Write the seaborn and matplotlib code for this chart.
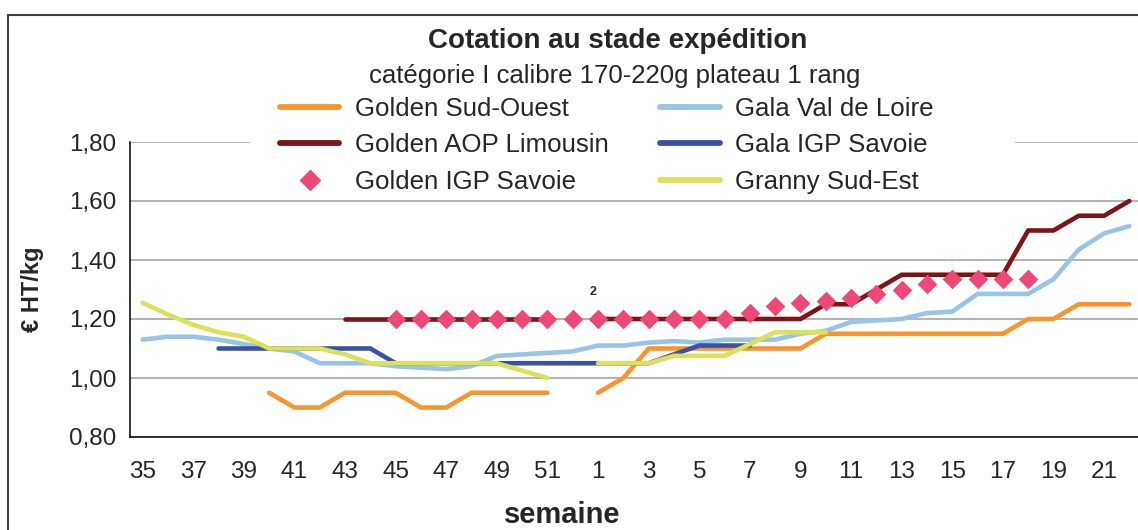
import numpy as np
import pandas as pd
import matplotlib
matplotlib.use("Agg")
import matplotlib.pyplot as plt
from matplotlib.lines import Line2D
from matplotlib.patches import Rectangle
import seaborn as sns

# semaines de campagne 35 -> 52 puis 1 -> 22
weeks = list(range(35, 53)) + list(range(1, 23))

golden_sud_ouest = ([None] * 5
                    + [0.95, 0.90, 0.90, 0.95, 0.95, 0.95, 0.90, 0.90, 0.95, 0.95, 0.95, 0.95]
                    + [None]
                    + [0.95, 1.00, 1.10, 1.10, 1.10, 1.10, 1.10, 1.10, 1.10]
                    + [1.15] * 8
                    + [1.20, 1.20, 1.25, 1.25, 1.25])
gala_val_de_loire = [1.13, 1.14, 1.14, 1.13, 1.115, 1.10, 1.09, 1.05, 1.05, 1.05, 1.04, 1.035,
                     1.03, 1.04, 1.075, 1.08, 1.085, 1.09,
                     1.11, 1.11, 1.12, 1.125, 1.12, 1.13, 1.13, 1.13, 1.15, 1.16, 1.19, 1.195,
                     1.20, 1.22, 1.225, 1.285, 1.285, 1.285, 1.335, 1.435, 1.49, 1.515]
golden_aop_limousin = ([None] * 8 + [1.20] * 9 + [None] + [1.20] * 9
                       + [1.25, 1.25, 1.30] + [1.35] * 5 + [1.50, 1.50, 1.55, 1.55, 1.60])
gala_igp_savoie = ([None] * 3 + [1.10] * 7 + [1.05] * 8
                   + [1.05, 1.05, 1.05, 1.08, 1.11, 1.11, 1.11] + [None] * 15)
golden_igp_savoie = ([None] * 10 + [1.20] * 14
                     + [1.22, 1.245, 1.255, 1.26, 1.27, 1.285, 1.30, 1.32, 1.335, 1.335, 1.335, 1.335]
                     + [None] * 4)
granny_sud_est = ([1.255, 1.215, 1.18, 1.155, 1.14, 1.10, 1.10, 1.10, 1.08, 1.05, 1.05, 1.05,
                   1.05, 1.05, 1.05, 1.025, 1.00, None]
                  + [1.05, 1.05, 1.05, 1.075, 1.075, 1.075, 1.115, 1.155, 1.155, 1.155]
                  + [None] * 12)

series_names = ["Golden Sud-Ouest", "Gala Val de Loire", "Golden AOP Limousin",
                "Gala IGP Savoie", "Golden IGP Savoie", "Granny Sud-Est"]
series_values = [golden_sud_ouest, gala_val_de_loire, golden_aop_limousin,
                 gala_igp_savoie, golden_igp_savoie, granny_sud_est]
colors = ["#F7962F", "#98C4E8", "#7E1416", "#3A52A3", "#EE4877", "#DBE15B"]

y_ticks = [0.8, 1.0, 1.2, 1.4, 1.6, 1.8]

# --- style ---
sns.set_style("white")
plt.rcParams["font.family"] = ["Liberation Sans", "DejaVu Sans"]

fig = plt.figure(figsize=(11.38, 5.30), dpi=100)
ax = fig.add_axes([130 / 1138, 93 / 530, 1012 / 1138, 295 / 530])
ax.set_axisbelow(True)
ax.grid(axis="y", color="#A6A6A6", linewidth=1.2)
ax.grid(axis="x", visible=False)

# table longue, avec un numéro de segment pour couper les trous
frames = []
for name, vals in zip(series_names, series_values):
    v = pd.Series([np.nan if x is None else x for x in vals], dtype=float)
    seg = v.isna().cumsum()
    frames.append(pd.DataFrame({"serie": name, "pos": np.arange(len(weeks)),
                                "valeur": v, "segment": seg}))
df = pd.concat(frames).dropna(subset=["valeur"])

for k, (name, col) in enumerate(zip(series_names, colors)):
    sub = df[df["serie"] == name]
    if name == "Golden IGP Savoie":
        sns.scatterplot(data=sub, x="pos", y="valeur", marker="D", s=100, color=col,
                        linewidth=0, legend=False, ax=ax, zorder=2 + k * 0.1)
    else:
        sns.lineplot(data=sub, x="pos", y="valeur", units="segment", estimator=None,
                     sort=False, color=col, linewidth=3.3, legend=False, ax=ax,
                     zorder=2 + k * 0.1)

ax.annotate("2", xy=(17.8, 1.29), ha="center", va="center", fontsize=9, fontweight="bold")

# axes
ax.set_xlim(-0.5, len(weeks) - 0.5)
ax.set_ylim(0.8, 1.8)
ax.set_xticks(range(0, len(weeks), 2))
ax.set_xticklabels([str(w) for w in weeks[::2]])
ax.set_xticks(np.arange(-0.5, len(weeks), 1), minor=True)
ax.tick_params(axis="x", which="major", length=0, pad=17, labelsize=17.5)
ax.tick_params(axis="x", which="minor", length=6, width=1, color="black", direction="out")
ax.set_yticks(y_ticks)
ax.set_yticklabels([f"{t:.2f}".replace(".", ",") for t in y_ticks])
ax.tick_params(axis="y", length=6, width=1, color="black", direction="out", pad=4, labelsize=17.5)
for s in ["top", "right"]:
    ax.spines[s].set_visible(False)
for s in ["left", "bottom"]:
    ax.spines[s].set_color("black")
    ax.spines[s].set_linewidth(1.1)

ax.set_xlabel("semaine", fontsize=21, fontweight="bold")
ax.xaxis.set_label_coords((562 - 130) / 1012, (437 - 501) / 295)
ax.set_ylabel("€ HT/kg", fontsize=17, fontweight="bold")
ax.yaxis.set_label_coords((44 - 130) / 1012, 0.5)

# titres
fig.text(618 / 1138, 1 - 41 / 530, "Cotation au stade expédition", ha="center", va="center",
         fontsize=20, fontweight="bold")
fig.text(615 / 1138, 1 - 76 / 530, "catégorie I calibre 170-220g plateau 1 rang",
         ha="center", va="center", fontsize=18.5)

# fond blanc de la légende
ax.add_patch(Rectangle((0.1186, 0.815), 0.756, 0.36, transform=ax.transAxes,
                       facecolor="white", edgecolor="none", zorder=1, clip_on=False))

handles = []
for name, col in zip(series_names, colors):
    if name == "Golden IGP Savoie":
        handles.append(Line2D([], [], color=col, marker="D", ms=10, linestyle="none"))
    else:
        handles.append(Line2D([], [], color=col, linewidth=4.2))
order = [0, 2, 4, 1, 3, 5]
leg = ax.legend([handles[i] for i in order], [series_names[i] for i in order],
                ncol=2, loc="upper left", bbox_to_anchor=(280 / 1138, 1 - 97 / 530),
                bbox_transform=fig.transFigure, frameon=False, fontsize=18.6,
                handlelength=2.3, handletextpad=0.6, columnspacing=2.0,
                labelspacing=0.48, borderpad=0, borderaxespad=0)

# cadre du graphique
fig.patches.append(Rectangle((8 / 1138, -0.1), 1.2, 1.1 - 15 / 530, transform=fig.transFigure,
                             fill=False, edgecolor="#404040", linewidth=1.5))

fig.savefig("out.png", dpi=100)
